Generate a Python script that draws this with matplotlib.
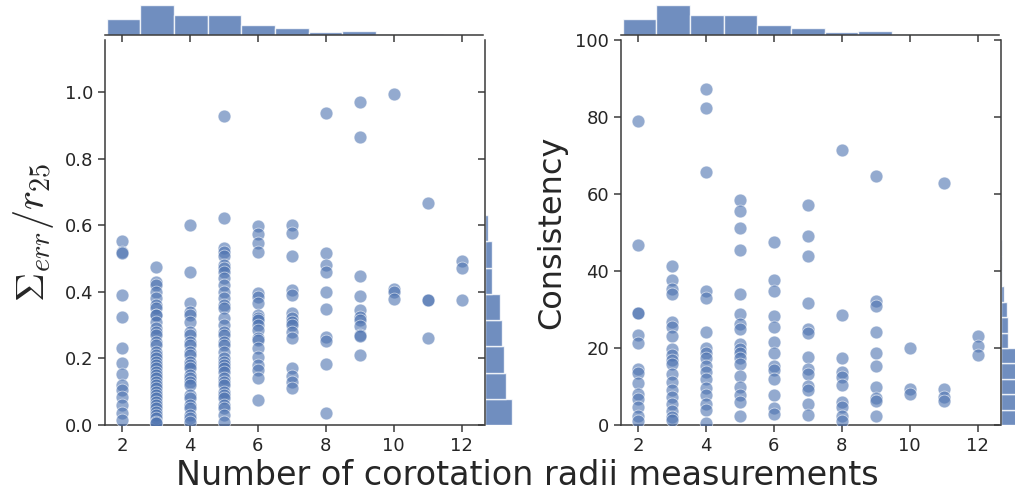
import numpy as np
import matplotlib
matplotlib.use("Agg")
import matplotlib.pyplot as plt

plt.rcParams['font.family'] = ['DejaVu Sans']
plt.rcParams['mathtext.fontset'] = 'cm'

POINT_COLOR = "#4C72B0"
SPINE_COLOR = "#3a3a3a"
TEXT_COLOR = "#262626"

# number of corotation radii measurements -> Sigma_err / r25 values (left panel)
err_by_n = {
    2: [0.553, 0.519, 0.517, 0.39, 0.325, 0.232, 0.185, 0.152, 0.12, 0.105, 0.085, 0.06, 0.035, 0.015],
    3: [0.475, 0.43, 0.42, 0.40, 0.38, 0.36, 0.35, 0.33, 0.33, 0.31, 0.29, 0.28, 0.27, 0.25, 0.24,
        0.22, 0.21, 0.20, 0.19, 0.18, 0.17, 0.16, 0.15, 0.14, 0.13, 0.12, 0.11, 0.10, 0.09, 0.08,
        0.07, 0.06, 0.05, 0.04, 0.03, 0.02, 0.01, 0.005],
    4: [0.60, 0.46, 0.365, 0.34, 0.33, 0.31, 0.28, 0.27, 0.25, 0.24, 0.22, 0.21, 0.19, 0.18, 0.17,
        0.15, 0.14, 0.13, 0.12, 0.09, 0.08, 0.06, 0.05, 0.03, 0.02, 0.01],
    5: [0.928, 0.621, 0.532, 0.52, 0.507, 0.48, 0.47, 0.46, 0.44, 0.42, 0.40, 0.38, 0.36, 0.35,
        0.32, 0.30, 0.28, 0.27, 0.25, 0.24, 0.22, 0.20, 0.19, 0.18, 0.17, 0.16, 0.14, 0.13, 0.12,
        0.10, 0.09, 0.08, 0.06, 0.05, 0.03, 0.01],
    6: [0.598, 0.573, 0.545, 0.52, 0.395, 0.385, 0.365, 0.33, 0.32, 0.315, 0.30, 0.285, 0.262,
        0.255, 0.23, 0.205, 0.18, 0.165, 0.14, 0.075],
    7: [0.60, 0.578, 0.507, 0.405, 0.39, 0.335, 0.32, 0.31, 0.30, 0.28, 0.26, 0.17, 0.148, 0.13, 0.11],
    8: [0.936, 0.517, 0.48, 0.46, 0.40, 0.347, 0.265, 0.253, 0.183, 0.035],
    9: [0.971, 0.865, 0.448, 0.387, 0.345, 0.325, 0.315, 0.297, 0.27, 0.268, 0.209],
    10: [0.995, 0.407, 0.398, 0.377],
    11: [0.668, 0.375, 0.375, 0.262],
    12: [0.493, 0.472, 0.375],
}

# number of corotation radii measurements -> consistency values (right panel)
cons_by_n = {
    2: [79.0, 46.8, 29.1, 29.1, 23.4, 21.2, 14.5, 13.5, 10.8, 8.0, 6.8, 4.6, 2.4, 1.1],
    3: [41.2, 37.7, 35.3, 34.0, 26.8, 25.5, 23.0, 19.7, 18.2, 16.8, 15.8, 13.2, 11.1, 9.2, 7.2,
        5.5, 3.7, 2.2, 1.3],
    4: [87.3, 82.3, 65.8, 34.9, 32.9, 24.2, 19.9, 18.6, 17.3, 15.3, 13.8, 11.9, 9.5, 7.8, 5.5,
        4.0, 0.5],
    5: [58.5, 55.5, 51.2, 45.5, 34.0, 28.8, 26.2, 25.0, 21.0, 19.7, 18.7, 17.3, 15.8, 12.8, 9.8,
        7.8, 6.1, 2.4],
    6: [47.6, 37.7, 34.9, 28.4, 25.4, 21.6, 18.7, 15.4, 14.3, 11.9, 7.8, 4.3, 2.9],
    7: [57.1, 49.0, 44.0, 31.7, 24.9, 24.0, 17.6, 14.5, 13.2, 10.2, 9.0, 5.5, 2.7],
    8: [71.4, 28.6, 17.3, 13.8, 12.5, 10.4, 5.9, 4.6, 2.4, 1.1],
    9: [64.6, 32.3, 31.0, 24.2, 18.7, 15.2, 9.8, 6.9, 6.2, 2.4],
    10: [19.9, 9.4, 8.0],
    11: [62.8, 9.4, 7.2, 6.2],
    12: [23.0, 20.4, 18.2],
}

# marginal histogram counts
n_counts = [47, 90, 60, 60, 30, 20, 10, 12, 3, 3, 1]
n_bin_edges = np.linspace(1.55, 12.45, 12)

err_counts = [81, 63, 57, 51, 45, 21, 21, 9]
err_bin_edges = np.linspace(0.0, 0.63, 9)

cons_counts = [70, 62, 55, 52, 50, 20, 20, 17, 10, 3, 3, 3]
cons_bin_edges = np.linspace(0.0, 48.0, 13)


def flatten(d):
    xs, ys = [], []
    for k, vals in d.items():
        xs += [k] * len(vals)
        ys += vals
    return np.array(xs), np.array(ys)


def style_ticks(ax):
    ax.tick_params(direction="out", length=5, width=1.1, color=SPINE_COLOR,
                   labelsize=13, labelcolor=TEXT_COLOR)
    for s in ax.spines.values():
        s.set_color(SPINE_COLOR)
        s.set_linewidth(1.1)


def joint_panel(fig, left, data, ylim, yticks, yfmt, y_edges, y_counts, marg_y_xmax):
    W, H = 1015.0, 498.0
    bottom = (H - 425) / H
    height = 385 / H
    width = 378 / W

    ax = fig.add_axes([left / W, bottom, width, height])
    xs, ys = flatten(data)
    ax.scatter(xs, ys, s=85, color=POINT_COLOR, alpha=0.6, edgecolor="white", linewidth=0.6, zorder=3)
    ax.set_xlim(1.5, 12.63)
    ax.set_ylim(*ylim)
    ax.set_xticks([2, 4, 6, 8, 10, 12])
    ax.set_yticks(yticks)
    ax.set_yticklabels([yfmt(v) for v in yticks])
    ax.spines["top"].set_visible(False)
    ax.spines["right"].set_visible(False)
    style_ticks(ax)

    # top marginal
    axx = fig.add_axes([left / W, (H - 35) / H, width, 100 / H], sharex=ax)
    axx.bar(n_bin_edges[:-1], n_counts, width=np.diff(n_bin_edges), align="edge",
            color=POINT_COLOR, alpha=0.8, edgecolor="white", linewidth=1)
    axx.set_ylim(0, 300)
    for s in ["top", "right", "left"]:
        axx.spines[s].set_visible(False)
    axx.set_yticks([])
    style_ticks(axx)
    axx.tick_params(labelbottom=False)

    # right marginal
    axy = fig.add_axes([(left + 380) / W, bottom, 77 / W, height], sharey=ax)
    axy.barh(y_edges[:-1], y_counts, height=np.diff(y_edges), align="edge",
             color=POINT_COLOR, alpha=0.8, edgecolor="white", linewidth=1)
    axy.set_xlim(0, marg_y_xmax)
    for s in ["top", "right", "bottom"]:
        axy.spines[s].set_visible(False)
    axy.set_xticks([])
    style_ticks(axy)
    axy.tick_params(labelleft=False)
    return ax


fig = plt.figure(figsize=(10.15, 4.98), dpi=100)

ax1 = joint_panel(fig, 105, err_by_n, (0, 1.156), [0.0, 0.2, 0.4, 0.6, 0.8, 1.0],
                  lambda v: f"{v:.1f}", err_bin_edges, err_counts, 231)
ax1.set_ylabel(r"$\Sigma_{err}/r_{25}$", fontsize=29, color=TEXT_COLOR, labelpad=6)

ax2 = joint_panel(fig, 621, cons_by_n, (0, 100), [0, 20, 40, 60, 80, 100],
                  lambda v: f"{v:d}", cons_bin_edges, cons_counts, 231)
ax2.set_ylabel("Consistency", fontsize=23, color=TEXT_COLOR, labelpad=6)

fig.text(0.52, 0.012, "Number of corotation radii measurements", ha="center", va="bottom",
         fontsize=24, color=TEXT_COLOR)

fig.savefig("out.png", dpi=100)
